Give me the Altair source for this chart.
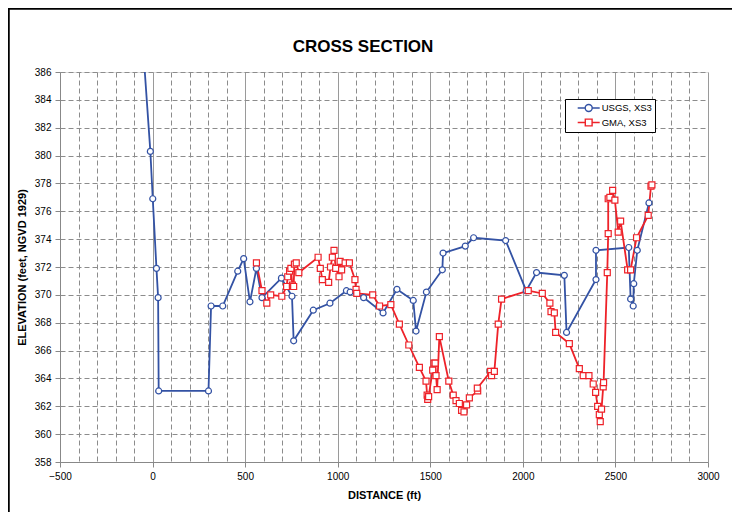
import altair as alt
import pandas as pd

# ---- data ----
usgs_dist = [-55, -12, 1, 21, 30, 33, 302, 316, 379, 460, 492, 526, 561, 591, 696, 753, 762,
             868, 958, 1047, 1067, 1140, 1245, 1320, 1408, 1423, 1479, 1565, 1569, 1689, 1734,
             1907, 2018, 2074, 2224, 2236, 2395, 2395, 2572, 2582, 2596, 2599, 2618, 2681]
usgs_elev = [388.5, 380.3, 376.9, 371.9, 369.8, 363.1, 363.1, 369.2, 369.2, 371.7, 372.6, 369.5,
             371.9, 369.8, 371.2, 369.9, 366.7, 368.9, 369.4, 370.3, 370.2, 369.8, 368.7, 370.4,
             369.6, 367.4, 370.2, 371.8, 373.0, 373.5, 374.1, 373.9, 370.3, 371.6, 371.4, 367.3,
             371.1, 373.2, 373.4, 369.7, 369.2, 370.8, 373.2, 376.6]

gma_dist = [561, 591, 617, 638, 698, 724, 730, 740, 747, 755, 762, 766, 776, 790, 894, 906, 917,
            951, 961, 971, 980, 989, 1007, 1013, 1021, 1040, 1063, 1093, 1099, 1103, 1189, 1226,
            1287, 1333, 1384, 1441, 1477, 1483, 1486, 1491, 1513, 1520, 1526, 1531, 1537, 1549,
            1600, 1624, 1639, 1657, 1669, 1682, 1696, 1711, 1756, 1754, 1826, 1831, 1846, 1867,
            1885, 2029, 2105, 2146, 2152, 2170, 2177, 2251, 2305, 2326, 2357, 2380, 2393, 2404,
            2413, 2418, 2425, 2434, 2436, 2456, 2461, 2461, 2470, 2485, 2497, 2515, 2528, 2566,
            2582, 2614, 2677, 2692, 2697]
gma_elev = [372.3, 370.3, 369.4, 370.0, 369.9, 370.6, 371.3, 371.7, 371.9, 370.7, 370.6, 372.2,
            372.3, 371.6, 372.7, 371.9, 371.1, 370.9, 372.0, 372.7, 373.2, 371.9, 371.3, 372.4,
            371.8, 372.3, 372.3, 371.1, 370.4, 370.1, 370.0, 369.2, 369.3, 367.9, 366.4, 364.8,
            363.8, 362.8, 362.5, 362.7, 364.6, 365.1, 365.1, 364.2, 363.2, 367.0, 363.8, 362.8,
            362.4, 362.2, 361.7, 361.6, 362.1, 362.6, 363.1, 363.3, 364.5, 364.2, 364.5, 367.9,
            369.7, 370.3, 370.1, 369.4, 368.8, 368.7, 367.3, 366.5, 364.7, 364.2, 364.2, 363.6,
            363.0, 362.0, 361.4, 360.9, 361.8, 363.4, 363.7, 371.6, 374.4, 376.9, 377.0, 377.5,
            376.8, 374.5, 375.3, 371.8, 371.8, 374.1, 375.7, 377.8, 377.9]

series_names = ["USGS, XS3", "GMA, XS3"]
series_colors = ["#3352A4", "#EE2229"]
x_ticks = list(range(-500, 3001, 100))
y_ticks = list(range(358, 387, 2))

rows = []
for name, xs, ys in [(series_names[0], usgs_dist, usgs_elev), (series_names[1], gma_dist, gma_elev)]:
    for i, (d, e) in enumerate(zip(xs, ys)):
        rows.append({"series": name, "i": i, "dist": d, "elev": e})
df = pd.DataFrame(rows)

FONT = "Liberation Sans"
PW, PH = 648, 390
PAD = {"left": 52, "top": 64, "right": 24, "bottom": 50}

major = "datum.value % 500 === 0"
x_enc = alt.X("dist:Q", scale=alt.Scale(domain=[-500, 3000], nice=False, zero=False),
              axis=alt.Axis(values=x_ticks, format="d",
                            labelExpr=f"{major} ? datum.label : ''",
                            labelOverlap=False, labelFlush=False,
                            tickOpacity={"condition": {"test": major, "value": 1}, "value": 0},
                            gridDash={"condition": {"test": major, "value": []}, "value": [5, 3]},
                            gridColor={"condition": {"test": major, "value": "#9a9a9a"}, "value": "#8c8c8c"},
                            title="DISTANCE  (ft)", titlePadding=8, labelPadding=4))
y_enc = alt.Y("elev:Q", scale=alt.Scale(domain=[358, 386], nice=False, zero=False),
              axis=alt.Axis(values=y_ticks, format="d", labelOverlap=False, labelFlush=False,
                            gridDash=[5, 3], gridColor="#8c8c8c",
                            title="ELEVATION (feet, NGVD 1929)", titlePadding=7, labelPadding=4))

def color_enc(legend=None):
    if legend is None:
        return alt.Color("series:N", scale=alt.Scale(domain=series_names, range=series_colors), legend=None)
    return alt.Color("series:N", scale=alt.Scale(domain=series_names, range=series_colors), legend=legend)

# legend glyphs: a line through a marker (unit = 5 px at symbolSize 100)
circ_path = "M-2.2,0L-0.7,0M0.7,0L2.2,0M0.7,0A0.7,0.7,0,1,1,-0.7,0A0.7,0.7,0,1,1,0.7,0Z"
sq_path = "M-2.2,0L-0.68,0M0.68,0L2.2,0M-0.68,-0.68L0.68,-0.68L0.68,0.68L-0.68,0.68Z"

def make_legend():
    return alt.Legend(orient="none", legendX=505, legendY=27, title=None,
                      strokeColor="black", fillColor="white", padding=3,
                      labelFont=FONT, labelFontSize=9.5, labelColor="black", labelOffset=7,
                      labelExpr="datum.label + '\u00a0\u00a0\u00a0\u00a0'",
                      symbolSize=100, symbolOffset=14.7, rowPadding=0.5, symbolStrokeWidth=1.4,
                      symbolFillColor="white", symbolOpacity=1)

base = alt.Chart(df)
lines = base.mark_line(strokeWidth=1.8, clip=True).encode(
    x=x_enc, y=y_enc, color=color_enc(), order=alt.Order("i:Q"))
points = base.mark_point(size=36, filled=False, fill="white", strokeWidth=1.2, opacity=1, clip=True).encode(
    x=x_enc, y=y_enc, color=color_enc(),
    shape=alt.Shape("series:N", scale=alt.Scale(domain=series_names, range=["circle", "square"]), legend=None))
legend_layer = base.transform_filter("false").mark_point(filled=False, strokeWidth=1.4, opacity=1).encode(
    x=x_enc, y=y_enc, color=color_enc(make_legend()),
    shape=alt.Shape("series:N", scale=alt.Scale(domain=series_names, range=[circ_path, sq_path]),
                    legend=make_legend()))

frame = alt.Chart(pd.DataFrame({"a": [0]})).mark_rect(
    fillOpacity=0, stroke="black", strokeWidth=2.5, clip=False).encode(
    x=alt.value(-PAD["left"] + 0.5), x2=alt.value(PW + PAD["right"] + 20),
    y=alt.value(-PAD["top"] + 0.5), y2=alt.value(PH + PAD["bottom"] + 20))

chart = alt.layer(lines, points, legend_layer, frame).resolve_scale(
    shape="independent", color="independent"
).properties(
    width=PW, height=PH,
    padding=PAD,
    autosize=alt.AutoSizeParams(type="none"),
    title=alt.TitleParams("CROSS SECTION", font=FONT, fontSize=17, fontWeight="bold",
                          color="black", anchor="middle", frame="group", dx=-21, dy=82, offset=20,
                          baseline="alphabetic"),
).configure_view(stroke="#404040", strokeWidth=1).configure_axis(
    labelFont=FONT, labelFontSize=10, labelColor="black",
    titleFont=FONT, titleFontSize=10, titleFontWeight="bold", titleColor="black",
    domainColor="black", domainWidth=2, tickColor="black", tickSize=4, tickWidth=1,
    gridWidth=1, gridOpacity=1,
).configure(background="white")

chart.save("out.html", embed_options={"renderer": "svg", "actions": False})
